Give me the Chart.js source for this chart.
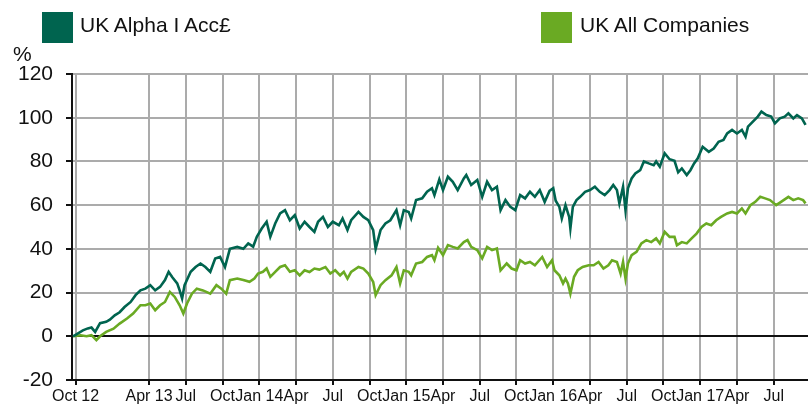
<!DOCTYPE html>
<html>
<head>
<meta charset="utf-8">
<script src="https://cdn.jsdelivr.net/npm/chart.js@4.4.1/dist/chart.umd.min.js"></script>
<style>
  html, body { margin: 0; padding: 0; background: #fff; }
  #wrap { position: relative; width: 808px; height: 406px; font-family: "Liberation Sans", Arial, sans-serif; color: #111; }
  #chart { position: absolute; left: 0; top: 0; }
  .key { position: absolute; top: 12px; width: 31px; height: 31px; }
  .lbl { position: absolute; top: 14px; font-size: 21px; line-height: 21px; white-space: nowrap; }
  #pct { position: absolute; left: 13px; top: 43px; font-size: 21px; line-height: 21px; }
</style>
</head>
<body>
<div id="wrap">
  <canvas id="chart" width="808" height="406"></canvas>
  <div class="key" style="left:42px;background:#00644f"></div>
  <div class="lbl" style="left:80px">UK Alpha I Acc£</div>
  <div class="key" style="left:541px;background:#6aaa23"></div>
  <div class="lbl" style="left:580px">UK All Companies</div>
  <div id="pct">%</div>
</div>
<script>
// months since Oct 2012, and the quarter labels shown under the axis
const tickMonths = [0, 6, 9, 12, 15, 18, 21, 24, 27, 30, 33, 36, 39, 42, 45, 48, 51, 54, 57];
const tickLabels = ['Oct 12', 'Apr 13', 'Jul', 'Oct', 'Jan 14', 'Apr', 'Jul', 'Oct', 'Jan 15', 'Apr',
  'Jul', 'Oct', 'Jan 16', 'Apr', 'Jul', 'Oct', 'Jan 17', 'Apr', 'Jul'];

// UK Alpha I Acc£ (cumulative %)
const alphaMonths = [-0.2,0.6,1.0,1.3,1.6,2.0,2.5,2.8,3.2,3.6,
  4.0,4.5,4.9,5.3,5.7,6.1,6.5,6.9,7.3,7.6,
  7.9,8.3,8.5,8.7,8.9,9.4,9.8,10.2,10.6,11.0,
  11.4,11.8,12.2,12.6,13.2,13.7,14.1,14.5,14.8,15.2,
  15.6,15.9,16.3,16.7,17.1,17.5,17.9,18.3,18.7,19.1,
  19.5,19.8,20.2,20.6,21.0,21.5,21.8,22.2,22.5,23.1,
  23.5,23.9,24.3,24.5,24.9,25.3,25.7,26.2,26.5,26.8,
  27.2,27.4,27.8,28.3,28.7,29.1,29.3,29.7,30.0,30.4,
  30.8,31.2,31.7,31.9,32.3,32.8,33.2,33.6,34.0,34.4,
  34.7,35.1,35.5,35.9,36.3,36.7,37.1,37.5,37.9,38.3,
  38.7,39.0,39.2,39.5,39.7,40.0,40.3,40.4,40.6,40.9,
  41.2,41.6,42.0,42.4,42.8,43.2,43.6,43.9,44.2,44.4,
  44.7,44.9,45.1,45.4,45.7,46.1,46.4,46.8,47.2,47.4,
  47.7,48.1,48.5,48.9,49.2,49.5,49.9,50.2,50.5,50.8,
  51.2,51.7,52.1,52.5,52.9,53.2,53.6,54.0,54.4,54.7,
  54.9,55.3,55.7,56.0,56.4,56.8,57.1,57.5,57.9,58.2,
  58.6,58.9,59.3,59.6];
const alphaValues = [0,2.7,3.6,4.0,2.0,6.0,6.6,7.6,9.6,11.0,
  13.4,15.7,18.8,21.0,21.8,23.4,21.0,22.6,25.7,29.5,
  27.0,24.2,21.0,17.3,23.4,29.5,31.7,33.3,31.7,29.5,
  35.6,36.3,31.7,40.0,40.9,40.0,42.5,41.0,45.5,49.3,
  52.4,45.5,51.6,56.2,57.7,53.1,55.4,49.3,52.4,50.0,
  47.8,52.4,54.6,50.0,52.4,50.8,53.9,48.6,53.1,56.9,
  54.6,53.1,48.6,40.0,48.6,51.6,53.1,57.7,50.8,57.7,
  56.9,53.9,62.3,63.1,66.1,67.7,64.6,71.8,66.9,73.0,
  70.7,66.9,72.2,73.8,69.2,71.5,63.8,70.7,66.9,68.4,
  57.7,62.3,59.2,57.7,64.6,63.1,66.1,63.8,66.9,61.5,
  66.5,67.7,62.0,59.2,53.9,60.0,54.6,49.3,59.2,62.3,
  63.8,66.1,66.9,68.4,66.1,64.6,66.9,69.2,66.9,60.8,
  68.4,57.7,67.7,72.2,74.5,76.0,80.0,79.1,78.3,80.0,
  77.6,83.7,81.0,80.3,75.0,76.8,73.8,76.0,79.1,81.4,
  86.7,84.4,85.9,89.0,89.8,92.8,94.4,92.8,94.4,91.3,
  95.9,98.2,100.5,102.8,101.2,100.5,97.4,99.7,100.5,102.0,
  99.7,101.2,99.7,96.7];

// UK All Companies sector (cumulative %)
const sectorMonths = [-0.2,0.4,0.9,1.3,1.7,2.0,2.5,3.1,3.6,4.2,
  4.7,5.3,5.7,6.1,6.5,6.9,7.3,7.7,8.1,8.5,
  8.8,9.1,9.5,9.9,10.4,11.0,11.5,11.9,12.3,12.6,
  13.2,13.7,14.2,14.6,14.9,15.3,15.6,15.9,16.3,16.7,
  17.1,17.5,17.9,18.3,18.7,19.1,19.5,19.9,20.4,20.8,
  21.2,21.6,21.9,22.2,22.5,23.1,23.5,23.9,24.3,24.5,
  24.9,25.3,25.8,26.2,26.5,26.8,27.2,27.4,27.8,28.3,
  28.7,29.1,29.3,29.6,30.0,30.4,30.8,31.2,31.7,32.0,
  32.3,32.8,33.2,33.6,34.0,34.4,34.7,35.2,35.6,36.0,
  36.3,36.7,37.1,37.5,38.1,38.5,38.9,39.1,39.5,39.8,
  40.0,40.2,40.4,40.7,41.0,41.4,41.9,42.3,42.7,43.1,
  43.5,43.8,44.2,44.5,44.7,44.9,45.1,45.4,45.8,46.2,
  46.6,47.0,47.4,47.7,48.1,48.5,48.9,49.1,49.5,49.9,
  50.3,50.7,51.1,51.5,51.9,52.3,52.7,53.2,53.6,54.0,
  54.4,54.7,55.1,55.5,55.9,56.3,56.7,57.2,57.6,58.2,
  58.6,59.0,59.4,59.6];
const sectorValues = [0,0.5,0,0.5,-1.8,0,2.0,3.5,5.8,8.1,
  10.4,14.2,14.2,15.0,11.9,14.2,15.7,20.3,18.0,14.2,
  10.4,15.0,19.5,21.8,21.0,19.5,23.4,21.8,19.5,25.7,
  26.4,25.7,24.9,26.4,28.7,29.5,31.0,27.2,29.5,31.7,
  32.5,29.5,30.2,27.9,30.2,29.4,31.0,30.5,31.7,28.7,
  30.2,27.9,29.5,26.4,29.5,31.7,31.0,28.7,24.9,18.8,
  23.4,25.7,27.9,31.7,24.2,30.2,29.5,27.9,33.3,34.0,
  36.3,37.1,34.8,40.5,37.1,41.7,40.9,40.2,43.1,44.0,
  40.9,39.4,35.6,40.9,39.4,40.2,30.2,33.3,31.0,30.2,
  34.8,33.3,34.0,32.5,36.3,31.7,34.8,30.2,27.9,24.2,
  26.4,24.2,19.5,27.2,30.2,31.7,32.5,32.5,34.0,31.0,
  32.5,34.8,34.0,28.7,34.0,26.4,33.3,37.1,38.6,42.5,
  44.0,43.1,44.8,42.5,47.8,45.5,45.5,41.7,43.1,42.5,
  44.8,47.0,50.0,51.6,50.8,53.1,54.6,56.2,56.9,56.2,
  58.5,56.2,60.0,61.5,63.8,63.1,62.3,60.0,61.5,63.8,
  62.3,63.1,62.3,60.8];

const toPoints = (xs, ys) => xs.map((x, i) => ({ x: x, y: ys[i] }));

Chart.defaults.font.family = '"Liberation Sans", Arial, sans-serif';
Chart.defaults.color = '#111';

new Chart(document.getElementById('chart'), {
  type: 'line',
  data: {
    datasets: [{
      label: 'UK Alpha I Acc£',
      data: toPoints(alphaMonths, alphaValues),
      borderColor: '#00644f',
      borderWidth: 2.6,
      pointRadius: 0,
      tension: 0
    }, {
      label: 'UK All Companies',
      data: toPoints(sectorMonths, sectorValues),
      borderColor: '#6aaa23',
      borderWidth: 2.6,
      pointRadius: 0,
      tension: 0
    }]
  },
  options: {
    responsive: false,
    animation: false,
    events: [],
    layout: { padding: { top: 74, left: 0, right: 0, bottom: 0 } },
    plugins: { legend: { display: false }, tooltip: { enabled: false } },
    scales: {
      x: {
        type: 'linear',
        min: -0.29,
        max: 59.8,
        afterBuildTicks: (scale) => { scale.ticks = tickMonths.map(v => ({ value: v })); },
        afterFit: (scale) => { scale.height = 26; },
        grid: { color: '#ababab', lineWidth: 2, tickColor: '#111', tickLength: 5 },
        border: { color: '#111', width: 2 },
        ticks: {
          autoSkip: false,
          maxRotation: 0,
          padding: 2,
          font: { size: 16 },
          callback: (v) => {
            const i = tickMonths.indexOf(v);
            return i >= 0 ? tickLabels[i] : '';
          }
        }
      },
      y: {
        min: -20,
        max: 120,
        afterFit: (scale) => { scale.width = 72; },
        grid: {
          color: (ctx) => (ctx.tick && ctx.tick.value === 0) ? '#111' : '#ababab',
          lineWidth: 2,
          tickColor: '#111',
          tickLength: 6
        },
        border: { color: '#111', width: 2 },
        ticks: { stepSize: 20, padding: 13, font: { size: 21 } }
      }
    }
  }
});
</script>
</body>
</html>
